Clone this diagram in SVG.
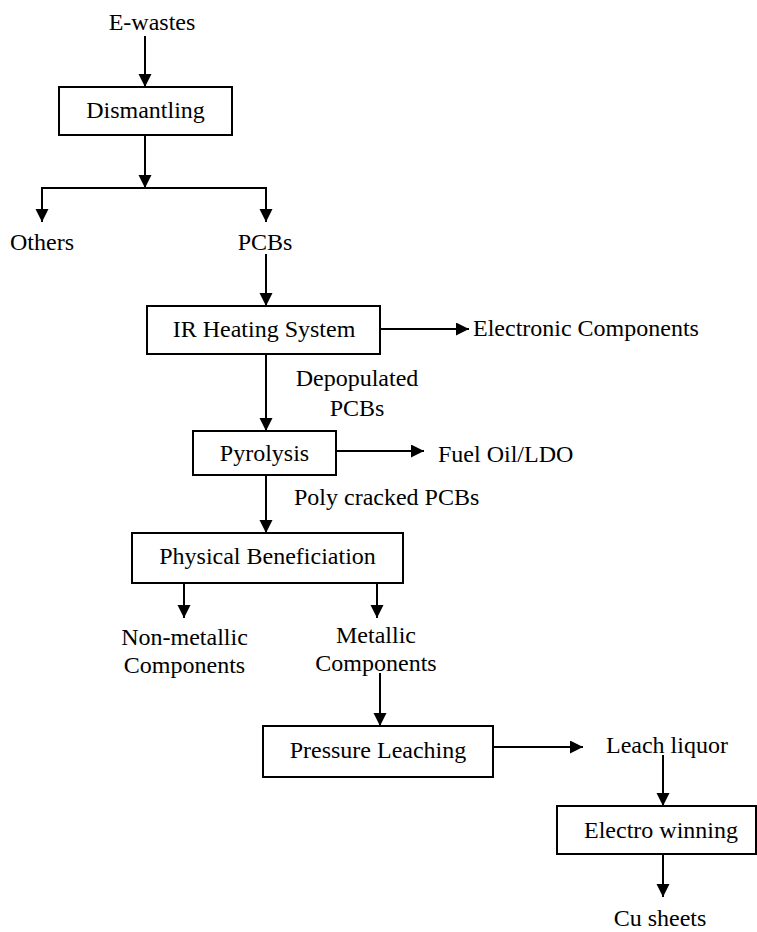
<svg xmlns="http://www.w3.org/2000/svg" width="757" height="932" viewBox="0 0 757 932">
<style>
text{font-family:"Liberation Serif","Times New Roman",serif;font-size:24px;fill:#000}
.c{text-anchor:middle}
.box{fill:#fff;stroke:#000;stroke-width:2}
.ln{fill:none;stroke:#000;stroke-width:2}
</style>
<defs>
<marker id="ah" markerUnits="userSpaceOnUse" markerWidth="14" markerHeight="14" refX="13" refY="6.5" orient="auto">
<path d="M0,0 L13,6.5 L0,13 z" fill="#000"/>
</marker>
</defs>
<g id="connectors">
<line class="ln" x1="145" y1="36" x2="145" y2="87" marker-end="url(#ah)"/>
<line class="ln" x1="145" y1="135" x2="145" y2="188" marker-end="url(#ah)"/>
<polyline class="ln" points="42,222 42,188 266,188 266,222"/>
<line class="ln" x1="42" y1="188" x2="42" y2="222" marker-end="url(#ah)"/>
<line class="ln" x1="266" y1="188" x2="266" y2="222" marker-end="url(#ah)"/>
<line class="ln" x1="266" y1="254" x2="266" y2="306" marker-end="url(#ah)"/>
<line class="ln" x1="380" y1="329" x2="469" y2="329" marker-end="url(#ah)"/>
<line class="ln" x1="266" y1="354" x2="266" y2="431" marker-end="url(#ah)"/>
<line class="ln" x1="336" y1="451" x2="424" y2="451" marker-end="url(#ah)"/>
<line class="ln" x1="266" y1="475" x2="266" y2="533" marker-end="url(#ah)"/>
<line class="ln" x1="184" y1="583" x2="184" y2="618" marker-end="url(#ah)"/>
<line class="ln" x1="377" y1="583" x2="377" y2="618" marker-end="url(#ah)"/>
<line class="ln" x1="380" y1="673" x2="380" y2="726" marker-end="url(#ah)"/>
<line class="ln" x1="493" y1="747" x2="583" y2="747" marker-end="url(#ah)"/>
<line class="ln" x1="663" y1="755" x2="663" y2="806" marker-end="url(#ah)"/>
<line class="ln" x1="663" y1="854" x2="663" y2="897" marker-end="url(#ah)"/>
</g>
<g id="ewastes"><text class="c" x="152" y="30">E-wastes</text></g>
<g id="dismantling"><rect class="box" x="59" y="87" width="173" height="48"/><text class="c" x="145.5" y="118">Dismantling</text></g>
<g id="others"><text x="10" y="250">Others</text></g>
<g id="pcbs"><text class="c" x="265" y="250">PCBs</text></g>
<g id="ir"><rect class="box" x="147" y="306" width="233" height="48"/><text class="c" x="264" y="337">IR Heating System</text></g>
<g id="electronic"><text x="473" y="336">Electronic Components</text></g>
<g id="depop"><text class="c" x="357" y="386">Depopulated</text><text class="c" x="357" y="416">PCBs</text></g>
<g id="pyrolysis"><rect class="box" x="193" y="431" width="143" height="44"/><text class="c" x="264.5" y="461">Pyrolysis</text></g>
<g id="fueloil"><text x="438" y="462">Fuel Oil/LDO</text></g>
<g id="polycracked"><text x="294" y="505">Poly cracked PCBs</text></g>
<g id="physben"><rect class="box" x="132" y="533" width="271" height="50"/><text class="c" x="267.5" y="564">Physical Beneficiation</text></g>
<g id="nonmetallic"><text class="c" x="184.5" y="645">Non-metallic</text><text class="c" x="184.5" y="673">Components</text></g>
<g id="metallic"><text class="c" x="376" y="643">Metallic</text><text class="c" x="376" y="671">Components</text></g>
<g id="pressure"><rect class="box" x="263" y="726" width="230" height="51"/><text class="c" x="378" y="758">Pressure Leaching</text></g>
<g id="leach"><text x="606" y="753">Leach liquor</text></g>
<g id="electro"><rect class="box" x="557" y="806" width="199" height="48"/><text class="c" x="661" y="838">Electro winning</text></g>
<g id="cu"><text class="c" x="660" y="926">Cu sheets</text></g>
</svg>
